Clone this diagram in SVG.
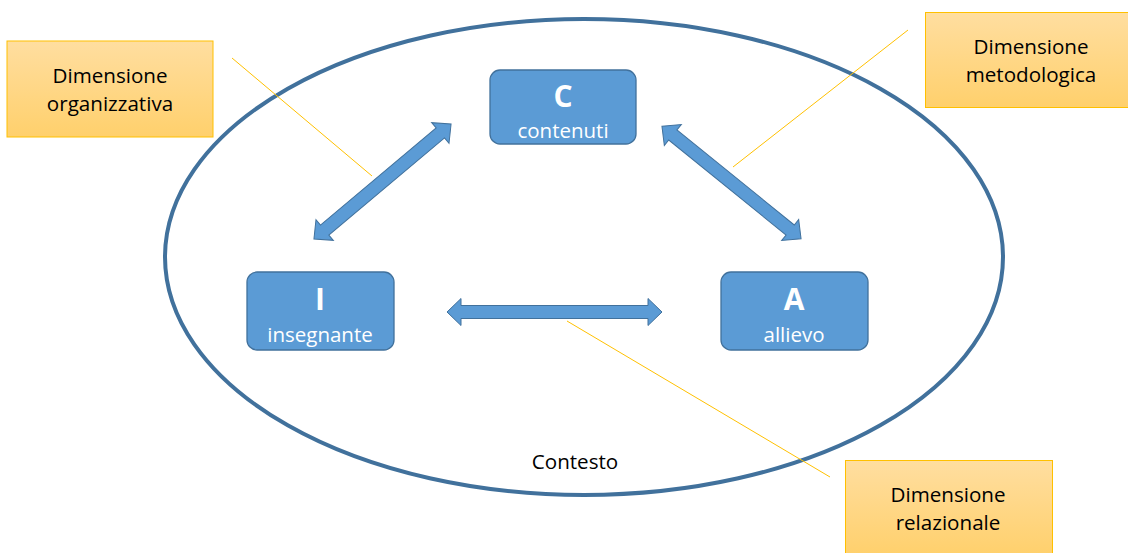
<svg xmlns="http://www.w3.org/2000/svg" width="1128" height="553" viewBox="0 0 1128 553">
<defs>
<linearGradient id="yg" x1="0" y1="0" x2="0" y2="1">
<stop offset="0" stop-color="#FFDEA0"/>
<stop offset="1" stop-color="#FFD06C"/>
</linearGradient>
<style>
.node rect.b{fill:#5B9BD5;stroke:#41719C;stroke-width:1.3}
.big{font-family:"Open Sans","Liberation Sans",sans-serif;font-weight:bold;font-size:30px;fill:#fff;text-anchor:middle}
.sm{font-family:"Open Sans","Liberation Sans",sans-serif;font-size:20.5px;fill:#fff;text-anchor:middle}
.dim rect{fill:url(#yg);stroke:#FFC000;stroke-width:1}
.dt{font-family:"Open Sans","Liberation Sans",sans-serif;font-size:20.6px;fill:#000;text-anchor:middle}
.arr{fill:#5B9BD5;stroke:#41719C;stroke-width:1}
.ln{stroke:#FFC000;stroke-width:1;fill:none}
</style>
</defs>
<rect width="1128" height="553" fill="#fff"/>
<g id="contesto">
<ellipse cx="584" cy="257" rx="419" ry="238" fill="none" stroke="#41719C" stroke-width="4"/>
<text x="575" y="469" class="dt">Contesto</text>
</g>
<g id="connectors">
<line class="ln" x1="232" y1="58" x2="372" y2="176"/>
<line class="ln" x1="908" y1="30" x2="733" y2="167"/>
<line class="ln" x1="567" y1="321" x2="830" y2="477"/>
<path class="arr" transform="translate(554.5,312)" d="M-107.5,0 L-93.5,-13.5 L-93.5,-6.5 L93.5,-6.5 L93.5,-13.5 L107.5,0 L93.5,13.5 L93.5,6.5 L-93.5,6.5 L-93.5,13.5 Z"/>
<path class="arr" transform="translate(382.5,181.5) rotate(-40)" d="M-89.5,0 L-75.5,-13.5 L-75.5,-6.5 L75.5,-6.5 L75.5,-13.5 L89.5,0 L75.5,13.5 L75.5,6.5 L-75.5,6.5 L-75.5,13.5 Z"/>
<path class="arr" transform="translate(731.5,182.5) rotate(39)" d="M-89.5,0 L-75.5,-13.5 L-75.5,-6.5 L75.5,-6.5 L75.5,-13.5 L89.5,0 L75.5,13.5 L75.5,6.5 L-75.5,6.5 L-75.5,13.5 Z"/>
</g>
<g id="nodeC" class="node">
<rect class="b" x="490" y="70" width="146" height="74" rx="10"/>
<text x="563" y="107" class="big">C</text>
<text x="563" y="138" class="sm">contenuti</text>
</g>
<g id="nodeI" class="node">
<rect class="b" x="247" y="272" width="147" height="78" rx="10"/>
<text x="320" y="310" class="big">I</text>
<text x="320" y="342" class="sm">insegnante</text>
</g>
<g id="nodeA" class="node">
<rect class="b" x="721" y="272" width="147" height="78" rx="10"/>
<text x="794" y="310" class="big">A</text>
<text x="794" y="342" class="sm">allievo</text>
</g>
<g id="dimOrg" class="dim">
<rect x="7" y="41" width="206" height="96"/>
<text x="110" y="83" class="dt">Dimensione</text>
<text x="110" y="111" class="dt">organizzativa</text>
</g>
<g id="dimMet" class="dim">
<rect x="925.5" y="12.5" width="203" height="95"/>
<text x="1031" y="54" class="dt">Dimensione</text>
<text x="1031" y="82" class="dt">metodologica</text>
</g>
<g id="dimRel" class="dim">
<rect x="845.5" y="460.5" width="207" height="95"/>
<text x="948" y="502" class="dt">Dimensione</text>
<text x="948" y="530" class="dt">relazionale</text>
</g>
</svg>
